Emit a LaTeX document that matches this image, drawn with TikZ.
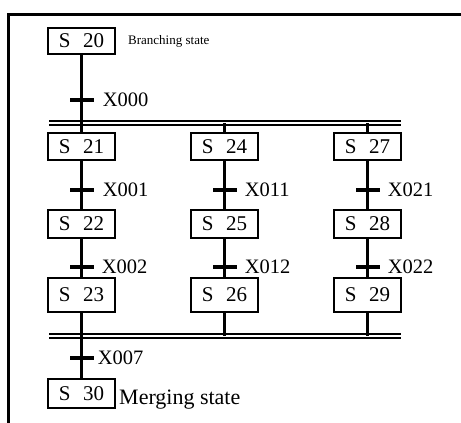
\documentclass[tikz,border=0pt]{standalone}
\usepackage{fontspec}
\setmainfont{Liberation Serif}
\usetikzlibrary{positioning}
\newcommand{\stnum}[1]{S\hspace{0.6em}#1}

\begin{document}
\begin{tikzpicture}[x=1pt, y=-1pt,
  stbox/.style={rectangle, draw, line width=2.3pt, minimum width=67pt, minimum height=#1, inner sep=0pt, font=\fontsize{21}{21}\selectfont},
  stbox/.default=28pt,
  trans/.style={rectangle, fill=black, minimum width=24pt, minimum height=3.2pt, inner sep=0pt},
  xlbl/.style={inner sep=0pt, font=\fontsize{20.5}{20.5}\selectfont},
  link/.style={line width=2.3pt},
  dbl/.style={line width=1.7pt},
  frame/.style={line width=3.2pt, line join=miter}
]
  \useasboundingbox (0,0) rectangle (461,423);
  \draw[frame] (461,14.5) -- (8.5,14.5) -- (8.5,423);

  \node[stbox=26pt] (s20) at (81.5,41) {\stnum{20}};
  \node[inner sep=0pt, anchor=west, font=\fontsize{13}{13}\selectfont] (brtxt) at (128,41) {Branching state};

  \coordinate (jt) at (225,123);
  \coordinate (jb) at (225,336);
  \draw[dbl] (49,121) -- (401,121);
  \draw[dbl] (49,125) -- (401,125);
  \draw[dbl] (49,334) -- (401,334);
  \draw[dbl] (49,338) -- (401,338);

  \node[stbox=27pt] (s21) at (81.5,146.5) {\stnum{21}};
  \node[stbox=27pt] (s24) at (224.5,146.5) {\stnum{24}};
  \node[stbox=27pt] (s27) at (367.5,146.5) {\stnum{27}};

  \node[stbox] (s22) at (81.5,224) {\stnum{22}};
  \node[stbox] (s25) at (224.5,224) {\stnum{25}};
  \node[stbox] (s28) at (367.5,224) {\stnum{28}};

  \node[stbox=34pt] (s23) at (81.5,295) {\stnum{23}};
  \node[stbox=34pt] (s26) at (224.5,295) {\stnum{26}};
  \node[stbox=34pt] (s29) at (367.5,295) {\stnum{29}};

  \node[stbox=29pt] (s30) at (81.5,393.5) {\stnum{30}};
  \node[inner sep=0pt, anchor=base west, font=\fontsize{22}{22}\selectfont] (mgtxt) at (119,404) {Merging state};

  \draw[link] (s20) -- (s21);
  \draw[link] (s24.north) -- (s24 |- jt);
  \draw[link] (s27.north) -- (s27 |- jt);
  \draw[link] (s21) -- (s22);
  \draw[link] (s24) -- (s25);
  \draw[link] (s27) -- (s28);
  \draw[link] (s22) -- (s23);
  \draw[link] (s25) -- (s26);
  \draw[link] (s28) -- (s29);
  \draw[link] (s23) -- (s30);
  \draw[link] (s26.south) -- (s26 |- jb);
  \draw[link] (s29.south) -- (s29 |- jb);

  \node[trans] (t0) at (81.5,100) {};
  \node[trans] (t1) at (81.5,190) {};
  \node[trans] (t2) at (81.5,267) {};
  \node[trans] (t3) at (224.5,190) {};
  \node[trans] (t4) at (224.5,267) {};
  \node[trans] (t5) at (367.5,190) {};
  \node[trans] (t6) at (367.5,267) {};
  \node[trans] (t7) at (81.5,358) {};

  \node[xlbl, right=9pt of t0] (x000) {X000};
  \node[xlbl, right=9pt of t1] (x001) {X001};
  \node[xlbl, right=8pt of t2] (x002) {X002};
  \node[xlbl, right=8pt of t3] (x011) {X011};
  \node[xlbl, right=8pt of t4] (x012) {X012};
  \node[xlbl, right=8pt of t5] (x021) {X021};
  \node[xlbl, right=8pt of t6] (x022) {X022};
  \node[xlbl, right=4pt of t7] (x007) {X007};
\end{tikzpicture}
\end{document}
